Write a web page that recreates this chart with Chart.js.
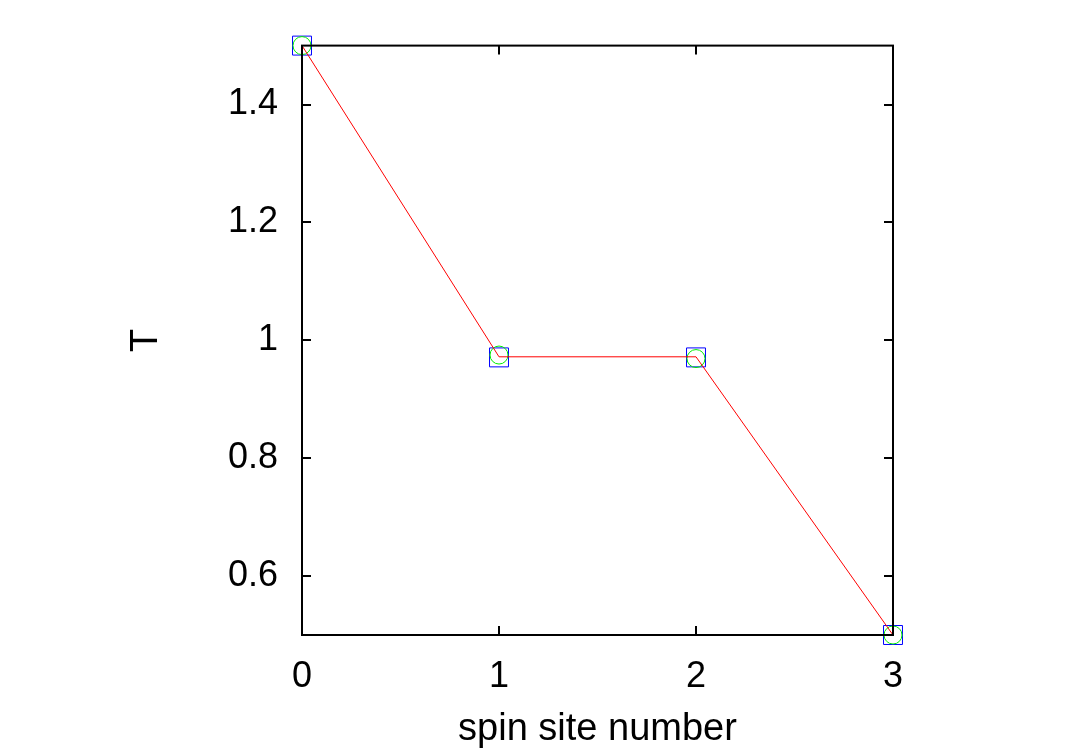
<!DOCTYPE html>
<html>
<head>
<meta charset="utf-8">
<script src="https://cdn.jsdelivr.net/npm/chart.js@4/dist/chart.umd.min.js"></script>
<style>
  html, body { margin: 0; padding: 0; background: #ffffff; }
  canvas { display: block; }
</style>
</head>
<body>
<canvas id="grafico" width="1080" height="756"></canvas>
<script>
// dati
const siti = [0, 1, 2, 3];
const valoriLinea = [1.5, 0.972, 0.972, 0.5];
const valoriCerchi = [1.5, 0.975, 0.969, 0.5];
const valoriQuadrati = [1.5, 0.971, 0.971, 0.5];
const tickX = [0, 1, 2, 3];
const tickY = [0.6, 0.8, 1, 1.2, 1.4];

const FONT = "'Liberation Sans', Arial, Helvetica, sans-serif";

function punti(valori) {
  return siti.map(function (x, i) { return { x: x, y: valori[i] }; });
}

// cornice e tacche interne (stile gnuplot)
const cornice = {
  id: "cornice",
  afterDatasetsDraw: function (chart) {
    const ctx = chart.ctx;
    const a = chart.chartArea;
    const sx = chart.scales.x;
    const sy = chart.scales.y;
    const lung = 9;
    ctx.save();
    ctx.strokeStyle = "#000000";
    ctx.lineWidth = 2;
    ctx.beginPath();
    tickX.forEach(function (v) {
      const px = Math.round(sx.getPixelForValue(v));
      ctx.moveTo(px, a.bottom);
      ctx.lineTo(px, a.bottom - lung);
      ctx.moveTo(px, a.top);
      ctx.lineTo(px, a.top + lung);
    });
    tickY.forEach(function (v) {
      const py = Math.round(sy.getPixelForValue(v));
      ctx.moveTo(a.left, py);
      ctx.lineTo(a.left + lung, py);
      ctx.moveTo(a.right, py);
      ctx.lineTo(a.right - lung, py);
    });
    ctx.stroke();
    ctx.strokeRect(a.left, a.top, a.right - a.left, a.bottom - a.top);
    ctx.restore();
  }
};

new Chart(document.getElementById("grafico"), {
  type: "scatter",
  data: {
    datasets: [
      {
        data: punti(valoriLinea),
        showLine: true,
        borderColor: "#ff0000",
        borderWidth: 1,
        pointRadius: 0,
        clip: false
      },
      {
        data: punti(valoriCerchi),
        showLine: false,
        pointStyle: "circle",
        pointRadius: 9,
        pointBorderWidth: 1,
        pointBorderColor: "#00ee00",
        pointBackgroundColor: "rgba(0,0,0,0)",
        clip: false
      },
      {
        data: punti(valoriQuadrati),
        showLine: false,
        pointStyle: "rect",
        pointRadius: 13.4,
        pointBorderWidth: 1,
        pointBorderColor: "#0000ff",
        pointBackgroundColor: "rgba(0,0,0,0)",
        clip: false
      }
    ]
  },
  options: {
    responsive: false,
    animation: false,
    layout: { padding: { left: 0, right: 187, top: 45, bottom: 0 } },
    plugins: { legend: { display: false }, tooltip: { enabled: false } },
    scales: {
      x: {
        type: "linear",
        min: 0,
        max: 3,
        afterBuildTicks: function (s) { s.ticks = tickX.map(function (v) { return { value: v }; }); },
        afterFit: function (s) { s.height = 121; },
        grid: { display: false, drawTicks: false },
        border: { display: false },
        ticks: {
          color: "#000000",
          padding: 20,
          font: { family: FONT, size: 36 },
          callback: function (v) { return String(v); }
        },
        title: {
          display: true,
          text: "spin site number",
          color: "#000000",
          font: { family: FONT, size: 38, lineHeight: 1.2 },
          padding: { top: 0, bottom: 4 }
        }
      },
      y: {
        type: "linear",
        min: 0.5,
        max: 1.5,
        afterBuildTicks: function (s) { s.ticks = tickY.map(function (v) { return { value: v }; }); },
        afterFit: function (s) { s.width = 302; },
        grid: { display: false, drawTicks: false },
        border: { display: false },
        ticks: {
          color: "#000000",
          padding: 24,
          font: { family: FONT, size: 36 },
          callback: function (v) { return String(v); }
        },
        title: {
          display: true,
          text: "T",
          color: "#000000",
          font: { family: FONT, size: 38, lineHeight: 1.2 },
          padding: { top: 124, bottom: 0 }
        }
      }
    }
  },
  plugins: [cornice]
});
</script>
</body>
</html>
